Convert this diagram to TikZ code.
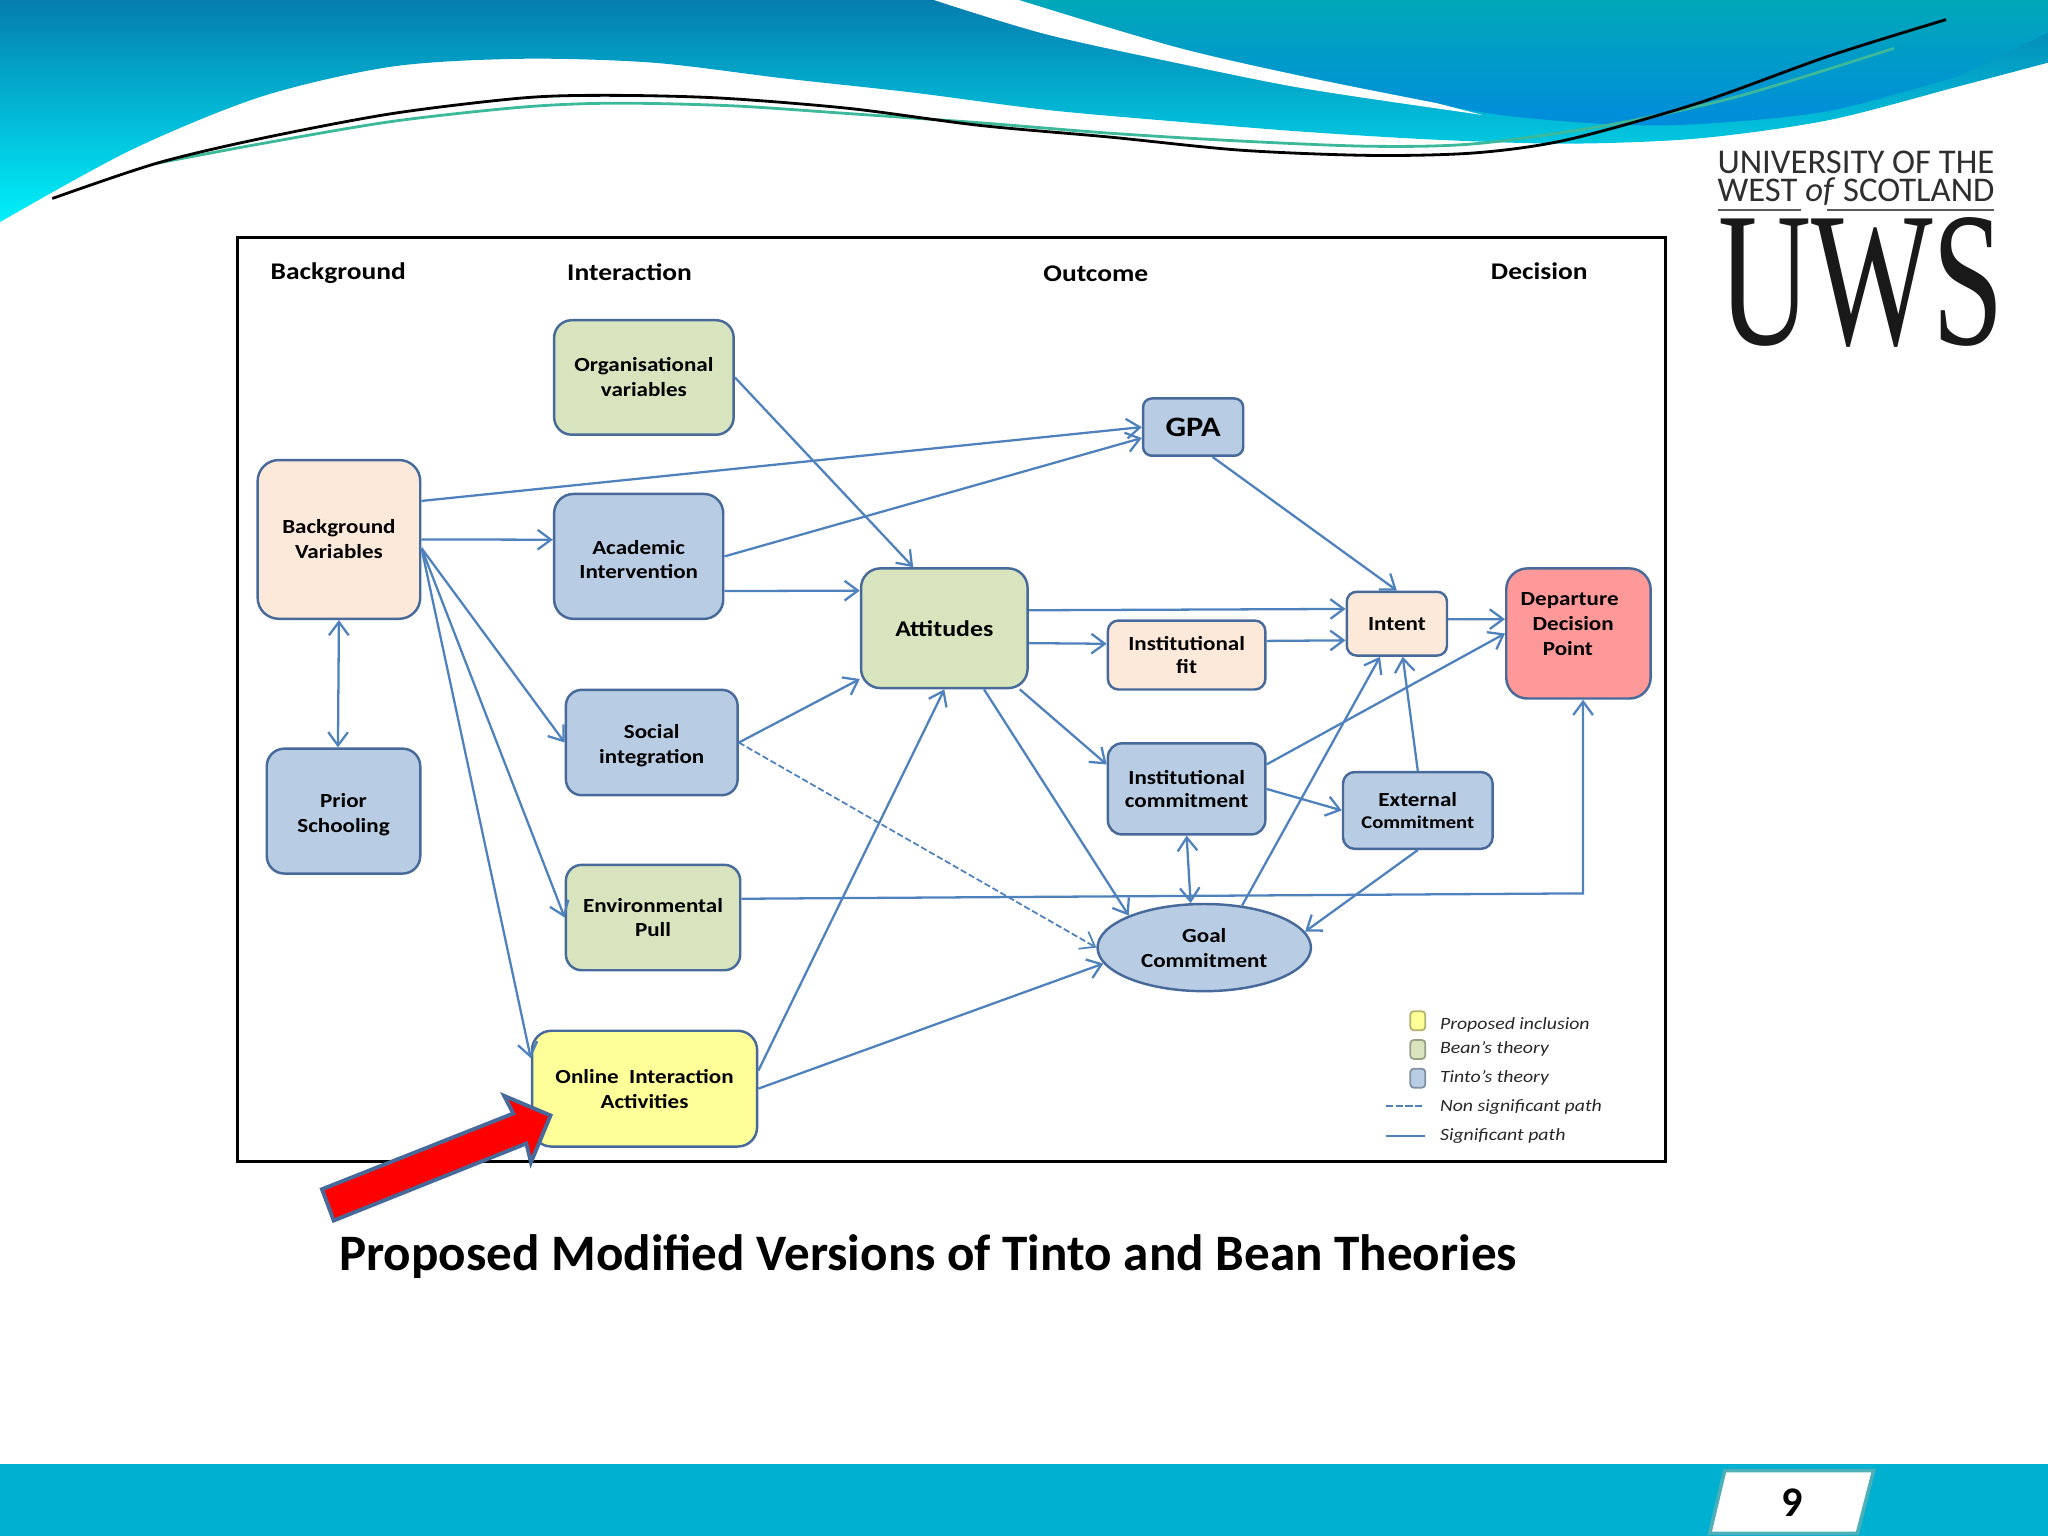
\documentclass[tikz,border=0pt]{standalone}
\usepackage{fontspec}
\setmainfont{Carlito}
\newfontfamily\boxfont[FakeStretch=1.15]{Carlito}
\usetikzlibrary{arrows.meta,shapes.geometric}
\definecolor{edgeblue}{RGB}{79,129,189}
\definecolor{rimblue}{RGB}{72,106,155}
\definecolor{tintoblue}{RGB}{184,204,228}
\definecolor{beangreen}{RGB}{215,228,189}
\definecolor{peach}{RGB}{253,233,217}
\definecolor{onlineyellow}{RGB}{255,255,153}
\definecolor{departred}{RGB}{255,153,153}
\definecolor{barcyan}{RGB}{0,176,208}
\newcommand{\lowered}{\rule{0pt}{5.8pt}}
\tikzset{
    boxsize/.style n args={3}{minimum width=#1*.3702pt, minimum height=#2*.3702pt, rounded corners=#3pt},
    block/.style={draw=rimblue, line width=.7pt, align=center, inner sep=0pt, text=black,
        font=\boxfont\bfseries\fontsize{5.7}{7.1}\selectfont},
    tinto/.style={block, fill=tintoblue},
    bean/.style={block, fill=beangreen},
    peachy/.style={block, fill=peach},
    heading/.style={font=\boxfont\bfseries\fontsize{6.8}{8}\selectfont, text=black},
    legtext/.style={anchor=west, inner sep=0pt, text=black!85, font=\boxfont\itshape\fontsize{4.9}{6}\selectfont},
    legbox/.style={draw=#1!70!black, fill=#1, line width=.5pt, rounded corners=1pt, minimum width=4.3pt, minimum height=5.4pt, inner sep=0pt},
    path/.style={draw=edgeblue, line width=.65pt, ->},
    logotext/.style={inner sep=0pt, text=black!82},
}
\begin{document}
\begin{tikzpicture}[x=.0130612cm, y=-.0130612cm, >={Straight Barb[length=3.8pt,width=5.6pt]}]
\useasboundingbox (0,0) rectangle (1568,1176);

% banner
\shade[top color={rgb,255:red,5;green,125;blue,175}, bottom color={rgb,255:red,0;green,240;blue,250}]
    (0,0) -- (1568,0) -- plot[smooth] coordinates {(1568,48) (1500,66) (1400,92) (1300,106) (1200,110) (1100,107) (1000,101) (900,93) (800,84) (700,71) (600,60) (500,48) (400,45) (300,51) (200,74) (100,115) (0,170)} -- cycle;
\shade[top color={rgb,255:red,0;green,168;blue,184}, bottom color={rgb,255:red,0;green,140;blue,220}]
    (780,0) -- (1568,0) -- (1568,25) -- plot[smooth] coordinates {(1500,58) (1400,85) (1300,95) (1230,95) (1135,86) (1000,59) (900,36) (780,0)} -- cycle;
\fill[white] plot[smooth] coordinates {(715,0) (800,26) (900,48) (1000,68) (1135,88)} -- plot[smooth] coordinates {(1100,79) (1000,59) (900,36) (780,0)} -- cycle;
\draw[line width=.8pt, color={rgb,255:red,60;green,184;blue,154}] plot[smooth] coordinates {(120,125) (200,110) (300,93) (400,82) (470,79) (560,81) (650,87) (750,94) (850,102) (950,108) (1050,112) (1130,110) (1230,96) (1330,74) (1450,37)};
\draw[line width=.8pt, black] plot[smooth] coordinates {(40,152) (120,125) (200,106) (300,87) (400,75) (465,73) (550,75) (650,83) (750,96) (850,105) (950,115) (1050,119) (1130,117) (1200,107) (1300,79) (1400,43) (1490,15)};

% logo
\node (logoa) at (1421,124.5)[logotext]{\resizebox{2.77cm}{!}{UNIVERSITY OF THE}};
\node (logob) at (1421,147)[logotext]{\resizebox{2.77cm}{!}{WEST \textit{of} SCOTLAND}};
\coordinate (rulea) at (1315.5,161);
\coordinate (ruleb) at (1379,161);
\coordinate (rulec) at (1398.5,161);
\coordinate (ruled) at (1527,161);
\draw[line width=.5pt, black!65] (rulea)--(ruleb) (rulec)--(ruled);
\node (logoc) at (1425,216.5)[inner sep=0pt, text=black!90]{\fontspec{Liberation Serif}\resizebox{2.86cm}{1.27cm}{UWS}};

% frame
\draw[line width=.9pt](182,182) rectangle (1275,889);
\node (hback) at (259,209.5)[heading]{Background};
\node (hinter) at (482,208.5)[heading]{Interaction};
\node (hout) at (839,209.5)[heading]{Outcome};
\node (hdec) at (1178.5,208)[heading]{Decision};

\node (bgvar) at (259.5,413)[peachy, boxsize={125}{122}{6}]{Background\\Variables};
\node (prior) at (263,621)[tinto, boxsize={118}{96}{5}]{\lowered Prior\\Schooling};
\node (org) at (493,289)[bean, boxsize={138}{88}{5}]{Organisational\\variables};
\node (acad) at (489,426)[tinto, boxsize={130}{96}{5.5}]{\lowered Academic\\Intervention};
\node (social) at (499,568.5)[tinto, boxsize={132}{81}{4.5}]{\lowered Social\\integration};
\node (env) at (500,702.5)[bean, boxsize={134}{81}{4.5}]{Environmental\\Pull};
\node (online) at (493.5,833.5)[block, fill=onlineyellow, boxsize={173}{89}{5.5}]{Online\ \ Interaction\\Activities};
\node (att) at (723,481)[bean, boxsize={128}{92}{5.5}, font=\boxfont\bfseries\fontsize{6.4}{8}\selectfont]{Attitudes};
\node (gpa) at (913.5,327)[tinto, boxsize={77}{44}{2.5}, font=\boxfont\bfseries\fontsize{8}{9}\selectfont]{GPA};
\node (fit) at (908.5,501.5)[peachy, boxsize={121}{53}{3}, font=\boxfont\bfseries\fontsize{5.7}{6.4}\selectfont]{Institutional\\fit};
\node (icom) at (908.5,604)[tinto, boxsize={121}{70}{4}, font=\boxfont\bfseries\fontsize{5.7}{6.4}\selectfont]{Institutional\\commitment};
\node (intent) at (1069.5,477.5)[peachy, boxsize={77}{49}{2.8}]{Intent};
\node (ecom) at (1085.5,620.5)[tinto, boxsize={115}{59}{3.3}, font=\boxfont\bfseries\fontsize{5.7}{6.2}\selectfont]{External\\{\fontsize{5.1}{6.2}\selectfont Commitment}};
\node (depart) at (1208.5,485)[block, fill=departred, boxsize={111}{100}{6}]{Departure\kern5pt\\Decision\kern3pt\\Point\kern6pt\\[-1.9pt]};
\node (goal) at (922,725.5)[tinto, shape=ellipse, boxsize={164}{67}{0}]{Goal\\Commitment};

\draw[path] (bgvar.25)--(gpa.west);
\draw[path] (bgvar.east)--(acad.169);
\draw[path] (bgvar.-6)--(social.west);
\draw[path] (bgvar.-6)--(env.west);
\draw[path] (bgvar.-6)--(online.165);
\draw[path, <->] (bgvar.south)--(prior.95);
\draw[path] (org.east)--(att.117);
\draw[path] (acad.east)--(gpa.192);
\draw[path] (acad.-22.5)--(att.156.4);
\draw[path] (social.east)--(att.211);
\draw[path, dashed, line width=.5pt, dash pattern=on 1.8pt off .8pt] (social.east)--(goal.west);
\draw[path] (online.9)--(att.south);
\draw[path] (online.east)--(goal.189);
\coordinate (envturn) at (1212,684);
\draw[path] (env.12)--(envturn)--(depart.-86);
\draw[path] (att.12.3)--(intent.164.7);
\draw[path] (att.-10.6)--(fit.172);
\draw[path] (fit.10.8)--(intent.198);
\draw[path] (gpa.-57)--(intent.north);
\draw[path] (intent.5)--(depart.169);
\draw[path] (icom.17)--(depart.west);
\draw[path] (att.-39)--(icom.163);
\draw[path] (att.-57)--(goal.157);
\draw[path] (icom.east)--(ecom.west);
\draw[path, <->] (icom.south)--(goal.107);
\draw[path] (goal.48)--(intent.-117);
\draw[path] (ecom.north)--(intent.-80);
\draw[path] (ecom.south)--(goal.9);

% red arrow
\draw[draw=rimblue, line width=1.1pt, fill=red, line join=miter](421.5,854)--(386,839)--(393,852.5)--(246.5,910.5)--(255.5,934.5)--(403,875.5)--(406.5,890)--cycle;

% legend
\foreach \n/\y/\c in {a/781.5/onlineyellow, b/803.5/beangreen, c/825.5/tintoblue}
{
    \node (key\n) at (1085.5,\y)[legbox=\c]{};
}
\node (keytexta) at (1102,784.5)[legtext]{Proposed inclusion};
\node (keytextb) at (1102,803)[legtext]{Bean’s theory};
\node (keytextc) at (1102,825)[legtext]{Tinto’s theory};
\node (keytextd) at (1102,847.5)[legtext]{Non significant path};
\node (keytexte) at (1102,869.5)[legtext]{Significant path};
\coordinate (dasha) at (1061,847);
\coordinate (dashb) at (1091,847);
\coordinate (solida) at (1061,870);
\coordinate (solidb) at (1091,870);
\draw[edgeblue, line width=.5pt, dash pattern=on 2pt off .8pt] (dasha)--(dashb);
\draw[edgeblue, line width=.65pt] (solida)--(solidb);

\node (title) at (710.5,962)[font=\bfseries\fontsize{14.55}{17}\selectfont]{Proposed Modified Versions of Tinto and Bean Theories};

% footer
\fill[barcyan](0,1121) rectangle (1568,1176);
\draw[line width=1pt, color={rgb,255:red,77;green,176;blue,184}, fill=white](1320.5,1126)--(1434.5,1126)--(1422,1174)--(1309,1174)--cycle;
\node (pageno) at (1372,1150.5)[font=\bfseries\fontsize{12}{14}\selectfont]{9};
\end{tikzpicture}
\end{document}
